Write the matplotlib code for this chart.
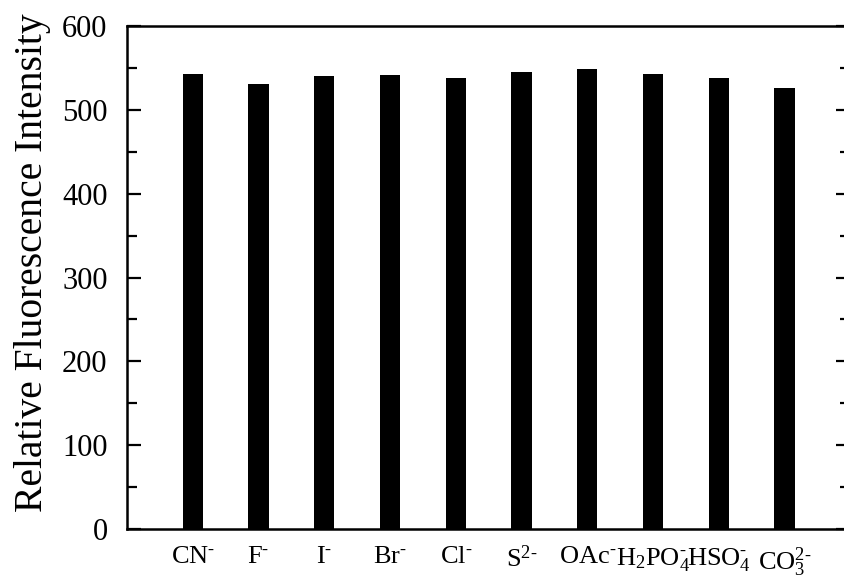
"""
Fluorescence response of the probe to different anions, drawn as a bar chart.
"""

import numpy as np
import matplotlib.pyplot as plt

# anions tested and the measured intensities
anions = ['CN^{\\text{-}}', 'F^{\\text{-}}', 'I^{\\text{-}}', 'Br^{\\text{-}}',
          'Cl^{\\text{-}}', 'S^{2\\text{-}}', 'OAc^{\\text{-}}',
          'H_{2}PO_{4}^{\\text{-}}', 'HSO_{4}^{\\text{-}}', 'CO_{3}^{2\\text{-}}']
intensity = [543, 531, 540, 541, 538, 545, 549, 543, 538, 526]

plt.rcParams['font.family'] = 'Liberation Serif'
plt.rcParams['mathtext.fontset'] = 'custom'
plt.rcParams['mathtext.rm'] = 'Liberation Serif'


def plot_data(names, values):
    fig = plt.figure(figsize=(8.45, 5.83), dpi=100)
    ax = fig.add_axes([0.1503, 0.0926, 0.856, 0.8628])

    x = np.arange(len(names))
    ax.bar(x, values, width=0.31, color='black')

    ax.set_xlim(-1, len(names))
    ax.set_ylim(0, 600)
    ax.set_yticks(np.arange(0, 601, 100))
    ax.set_yticks(np.arange(50, 600, 100), minor=True)
    ax.set_xticks(x)
    ax.set_xticklabels(['$\\mathregular{' + n + '}$' for n in names], fontsize=19)

    ax.tick_params(axis='y', which='major', direction='in', length=10, width=1.6,
                   right=True, labelsize=22, pad=14)
    ax.tick_params(axis='y', which='minor', direction='in', length=7, width=1.6,
                   right=True)
    ax.tick_params(axis='x', length=0, pad=12)

    for s in ax.spines.values():
        s.set_linewidth(1.8)

    ax.set_ylabel('Relative Fluorescence Intensity', fontsize=28.5)
    ax.yaxis.set_label_coords(-0.105, 0.53)
    fig.savefig('out.png', dpi=100)


def main():
    plot_data(anions, intensity)


if __name__ == '__main__':
    main()
